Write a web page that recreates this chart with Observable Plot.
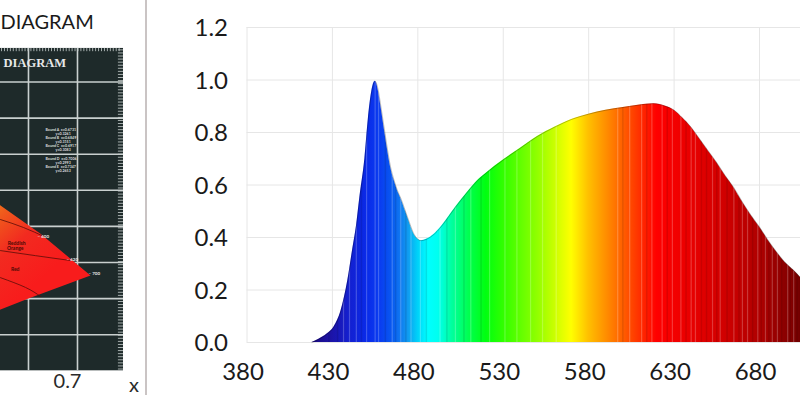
<!DOCTYPE html>
<html>
<head>
<meta charset="utf-8">
<script src="https://cdn.jsdelivr.net/npm/d3@7"></script>
<script src="https://cdn.jsdelivr.net/npm/@observablehq/plot@0.6"></script>
<style>
  html, body { margin: 0; padding: 0; background: #fff; }
  body { width: 800px; height: 395px; overflow: hidden; position: relative; }
  #left { position: absolute; left: 0; top: 0; width: 148px; height: 395px; }
  #right { position: absolute; left: 150px; top: 0; width: 650px; height: 395px; }
  svg { overflow: hidden; }
</style>
</head>
<body>
<div id="left"></div>
<div id="right"></div>
<script>
// ---------- Spectrum data ----------
const wavelengths = [418, 422, 427, 431, 435, 439, 442, 444, 446, 449, 451, 453, 455, 457, 458, 460, 462, 464, 466, 468, 470, 474, 478, 482, 485, 490, 495, 500, 505, 510, 515, 520, 530, 540, 550, 560, 570, 580, 590, 600, 610, 618, 625, 630, 635, 640, 645, 650, 655, 660, 665, 670, 675, 680, 685, 690, 695, 700, 705];
const intensity = [0, 0.012, 0.033, 0.06, 0.12, 0.236, 0.36, 0.44, 0.55, 0.70, 0.85, 0.955, 0.995, 0.955, 0.915, 0.83, 0.745, 0.67, 0.62, 0.58, 0.55, 0.477, 0.41, 0.388, 0.393, 0.415, 0.452, 0.497, 0.54, 0.58, 0.617, 0.645, 0.695, 0.74, 0.785, 0.82, 0.85, 0.87, 0.885, 0.895, 0.905, 0.91, 0.90, 0.885, 0.855, 0.82, 0.775, 0.73, 0.685, 0.635, 0.59, 0.535, 0.485, 0.44, 0.39, 0.345, 0.305, 0.275, 0.24];
const xTicks = [380, 430, 480, 530, 580, 630, 680];
const yTicks = [0, 0.2, 0.4, 0.6, 0.8, 1.0, 1.2];
// colours of the visible spectrum along the wavelength axis
const stopWavelengths = [418, 430, 440, 450, 458, 465, 470, 475, 480, 486, 492, 500, 510, 520, 530, 540, 550, 560, 570, 580, 590, 600, 610, 620, 640, 660, 680, 700, 705];
const stopColors = ["#1a0a80", "#1c14a8", "#1420d0", "#0a2ae8", "#0a3cf0", "#0858f0", "#1078f0", "#10a0f0", "#00d0f8", "#00ffff", "#00fff0", "#00ffa0", "#00ff50", "#00ff10", "#30ff00", "#60ff00", "#90ff00", "#c8ff00", "#ffff00", "#ffc000", "#ff9000", "#ff6000", "#ff3000", "#ff0000", "#e80000", "#d00000", "#b00000", "#800000", "#700000"];
// faint vertical streaks seen in the spectrum fill
const lightStreaks = [436.5, 440, 444, 450, 455, 457, 465, 470, 476, 481.5, 493, 502, 511, 522, 531, 538, 546, 553, 561, 597, 604, 611, 617, 623, 629, 634, 640, 642.5, 652.5, 657, 665, 670, 673, 679, 683.5, 687.5, 690.5, 696.5, 700];
const darkStreaks = [428, 433, 447, 461, 467, 473, 485, 497, 507, 517, 600, 614, 626, 637, 646, 649, 655, 661, 668, 676, 681, 685.5, 693, 698, 702];

// ---------- Left (cropped chromaticity diagram) data ----------
const panelX = [0.5429, 0.7939];
const panelY = [0.0, 0.893];
const cieGridX = [0.6, 0.7];
const cieGridY = [0.1, 0.2, 0.3, 0.4, 0.5, 0.6, 0.7, 0.8];
const gamutX = [0.50, 0.5429, 0.6245, 0.7265, 0.6, 0.5429, 0.50];
const gamutY = [0.499, 0.458, 0.380, 0.264, 0.200, 0.170, 0.1475];
const isoA = {x: [0.5429, 0.5898, 0.6347], y: [0.419, 0.397, 0.370]};
const isoB = {x: [0.5429, 0.6143, 0.6857], y: [0.333, 0.319, 0.3055]};
const isoC = {x: [0.5429, 0.5939, 0.6245], y: [0.258, 0.231, 0.206]};
const regionNames = ["Reddish", "Orange", "Red"];
const regionX = [0.5939, 0.5898, 0.5816];
const regionY = [0.354, 0.340, 0.280];
const locusNames = ["600", "620", "700"];
const locusX = [0.6184, 0.6776, 0.7224];
const locusY = [0.373, 0.309, 0.270];
const boundText = ["Bound A  x=0.6731", "y=0.3261", "Bound B  x=0.6849", "y=0.3151", "Bound C  x=0.6917", "y=0.3083",
                   "Bound D  x=0.7006", "y=0.2993", "Bound E  x=0.7347", "y=0.2653"];
const boundX = [0.6347, 0.6551, 0.6347, 0.6551, 0.6347, 0.6551, 0.6347, 0.6551, 0.6347, 0.6551];
const boundY = [0.668, 0.657, 0.646, 0.635, 0.624, 0.613, 0.587, 0.576, 0.565, 0.554];
const titleText = ["DIAGRAM"];
const outerTickLabels = ["0.7", "x"];
const outerTickX = [0.6796, 0.8153];
const outerTickY = [-0.030, -0.040];
const separatorX = [0.8398];

const FONT = "Lato, 'Open Sans', sans-serif";
const SVGNS = "http://www.w3.org/2000/svg";
function el(name, attrs) {
  const e = document.createElementNS(SVGNS, name);
  for (const k in attrs) e.setAttribute(k, attrs[k]);
  return e;
}

try {
// ---------- Left panel ----------
const gamut = gamutX.map((x, i) => ({x, y: gamutY[i]}));
const iso = [isoA, isoB, isoC].flatMap((s, k) => s.x.map((x, i) => ({k, x, y: s.y[i]})));
const left = Plot.plot({
  width: 148, height: 395,
  marginLeft: 0, marginRight: 0, marginTop: 0, marginBottom: 0,
  x: {domain: [0.5429, 0.8449], axis: null},
  y: {domain: [-0.0684, 1.0258], axis: null},
  style: {fontFamily: FONT, background: "transparent", overflow: "hidden"},
  marks: [
    Plot.rect([0], {x1: panelX[0], x2: panelX[1], y1: panelY[0], y2: panelY[1], fill: "#1e2a2a"}),
    Plot.ruleX(cieGridX, {y1: panelY[0], y2: panelY[1], stroke: "#c9d0cf", strokeWidth: 1.6}),
    Plot.ruleY(cieGridY, {x1: panelX[0], x2: panelX[1], stroke: "#c9d0cf", strokeWidth: 1.6}),
    Plot.ruleY(d3.range(0.005, 0.89, 0.0085), {x1: 0.7835, x2: panelX[1], stroke: "#c9d0cf", strokeWidth: 0.8}),
    Plot.ruleX(d3.range(0.545, 0.79, 0.006), {y1: 0.884, y2: panelY[1], stroke: "#c9d0cf", strokeWidth: 0.8}),
    Plot.line(gamut, {x: "x", y: "y", fill: "url(#gamutGrad)", stroke: "none", curve: "linear"}),
    Plot.line(iso, {x: "x", y: "y", z: "k", stroke: "#5a0c08", strokeWidth: 0.8, curve: "natural"}),
    Plot.text(regionNames, {x: (d, i) => regionX[i], y: (d, i) => regionY[i], text: d => d, textAnchor: "end", fontSize: 5, fontWeight: "bold", fill: "#4a0a05"}),
    Plot.text(locusNames, {x: (d, i) => locusX[i], y: (d, i) => locusY[i], text: d => "– " + d, textAnchor: "start", fontSize: 4.5, fontWeight: "bold", fill: "#e8e8e8"}),
    Plot.text(boundText, {x: (d, i) => boundX[i], y: (d, i) => boundY[i], text: d => d, textAnchor: "start", fontSize: 3.6, fontWeight: "bold", fill: "#d8dcdc"}),
    Plot.text(titleText, {x: 0.5490, y: 0.854, text: d => d, textAnchor: "start", fontSize: 12.5, fontWeight: "bold", fontFamily: "'Liberation Serif', serif", fill: "#e6e8e8"}),
    Plot.text(titleText, {x: 0.5429, y: 0.9648, text: d => d, textAnchor: "start", fontSize: 20, fill: "#1a1a1a"}),
    Plot.text(outerTickLabels, {x: (d, i) => outerTickX[i], y: (d, i) => outerTickY[i], text: d => d, fontSize: 20, fill: "#2a2a2a"}),
    Plot.ruleX(separatorX, {stroke: "#b9b1b1", strokeWidth: 1.5})
  ]
});
{
  const defs = el("defs", {});
  const g = el("linearGradient", {id: "gamutGrad", x1: 0, y1: 0, x2: 0.55, y2: 0.7});
  [[0, "#f2a018"], [0.3, "#f05a1c"], [0.6, "#f22a20"], [1, "#f81c1c"]].forEach(([o, c]) =>
    g.appendChild(el("stop", {offset: o, "stop-color": c})));
  defs.appendChild(g);
  left.insertBefore(defs, left.firstChild);
}
document.getElementById("left").appendChild(left);

// ---------- Right panel: spectrum ----------
const spectrum = wavelengths.map((w, i) => ({w, v: intensity[i]}));
const chart = Plot.plot({
  width: 650, height: 395,
  marginLeft: 96.5, marginRight: 0, marginTop: 27, marginBottom: 53,
  x: {domain: [380, 704], label: null},
  y: {domain: [0, 1.2], label: null},
  style: {fontFamily: FONT, background: "transparent", color: "#1a1a1a", overflow: "hidden"},
  marks: [
    Plot.gridX(xTicks, {stroke: "#e6e6e6", strokeOpacity: 1, strokeWidth: 1}),
    Plot.gridY(yTicks, {stroke: "#e6e6e6", strokeOpacity: 1, strokeWidth: 1}),
    Plot.areaY(spectrum, {x: "w", y: "v", fill: "url(#specGrad)", curve: "monotone-x"}),
    Plot.ruleX(lightStreaks, {y1: 0, y2: 1.2, stroke: "#ffffff", strokeOpacity: 0.22, strokeWidth: 1.2}),
    Plot.ruleX(darkStreaks, {y1: 0, y2: 1.2, stroke: "#000000", strokeOpacity: 0.1, strokeWidth: 1.5}),
    Plot.lineY(spectrum, {x: "w", y: "v", stroke: "#000", strokeOpacity: 0.25, strokeWidth: 1, curve: "monotone-x"}),
    Plot.axisX(xTicks, {tickSize: 0, tickPadding: 20, fontSize: 24, dx: -4, label: null, tickFormat: d => String(d)}),
    Plot.axisY(yTicks, {tickSize: 0, tickPadding: 19, fontSize: 24, dy: 1, label: null, tickFormat: d3.format(".1f")})
  ]
});
const xs = chart.scale("x");
const gx1 = xs.apply(stopWavelengths[0]);
const gx2 = xs.apply(stopWavelengths[stopWavelengths.length - 1]);
const defs = el("defs", {});
const grad = el("linearGradient", {id: "specGrad", gradientUnits: "userSpaceOnUse", x1: gx1, y1: 0, x2: gx2, y2: 0});
stopWavelengths.forEach((w, i) =>
  grad.appendChild(el("stop", {offset: ((xs.apply(w) - gx1) / (gx2 - gx1)).toFixed(4), "stop-color": stopColors[i]})));
defs.appendChild(grad);
// mark groups in order: gridX, gridY, area, light streaks, dark streaks, line, axes
const groups = Array.from(chart.children).filter(n => n.tagName.toLowerCase() === "g");
const areaG = groups[2];
const areaPath = areaG ? areaG.querySelector("path") : null;
if (areaPath) {
  const clip = el("clipPath", {id: "specClip"});
  clip.appendChild(el("path", {d: areaPath.getAttribute("d")}));
  defs.appendChild(clip);
  groups[3].setAttribute("clip-path", "url(#specClip)");
  groups[4].setAttribute("clip-path", "url(#specClip)");
}
chart.insertBefore(defs, chart.firstChild);
document.getElementById("right").appendChild(chart);
} catch (e) {
  document.body.insertAdjacentHTML("beforeend", `<pre style="position:absolute;left:200px;top:100px;color:red;font-size:11px">${e && e.stack}</pre>`);
}
</script>
</body>
</html>
